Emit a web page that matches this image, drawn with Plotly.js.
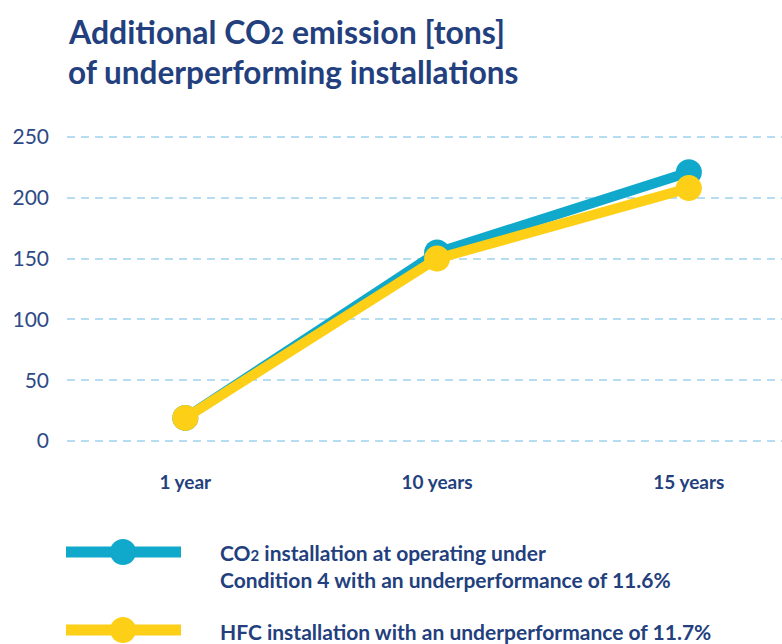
<!DOCTYPE html>
<html>
<head>
<meta charset="utf-8">
<script src="https://cdn.plot.ly/plotly-3.0.1.min.js"></script>
<style>html,body{margin:0;padding:0;background:#fff;}#chart{width:782px;height:644px;}</style>
</head>
<body>
<div id="chart"></div>
<script>
// ---- data ----
const categories = ['1 year', '10 years', '15 years'];
const co2Values = [19, 155, 221];
const hfcValues = [19, 150, 208];
const yTickValues = [0, 50, 100, 150, 200, 250];
const seriesNames = [
  'CO<span style="font-size:15px">2</span> installation at operating under<br>Condition 4 with an underperformance of 11.6%',
  'HFC installation with an underperformance of 11.7%'
];
const titleLines = ['Additional CO<span style="font-size:23px">2</span> emission [tons]', 'of underperforming installations'];

// ---- style ----
const W = 782, H = 644;
const M = {l: 67, r: 0, t: 120, b: 189};
const navy = '#233f7d';
const blue = '#10a9cb';
const yellow = '#fdd017';
const FONT = 'Lato, "Open Sans", sans-serif';

const pw = W - M.l - M.r, ph = H - M.t - M.b;
const px = x => (x - M.l) / pw;
const py = y => (H - M.b - y) / ph;

const traces = [
  {x: categories, y: co2Values, name: 'co2', type: 'scatter', mode: 'lines+markers',
   line: {color: blue, width: 10}, marker: {color: blue, size: 26}, cliponaxis: false},
  {x: categories, y: hfcValues, name: 'hfc', type: 'scatter', mode: 'lines+markers',
   line: {color: yellow, width: 10}, marker: {color: yellow, size: 26}, cliponaxis: false}
];

const legendRows = [{y: 552, color: blue, textY: 566, text: seriesNames[0]},
                     {y: 630, color: yellow, textY: 631, text: seriesNames[1]}];
const shapes = [];
const annotations = [];
legendRows.forEach(r => {
  shapes.push({type: 'line', xref: 'paper', yref: 'paper', x0: px(66), x1: px(181), y0: py(r.y), y1: py(r.y),
               line: {color: r.color, width: 11}});
  shapes.push({type: 'circle', xref: 'paper', yref: 'paper', x0: px(110), x1: px(136), y0: py(r.y + 13), y1: py(r.y - 13),
               fillcolor: r.color, line: {width: 0}});
  annotations.push({xref: 'paper', yref: 'paper', x: px(218), y: py(r.textY), xanchor: 'left', yanchor: 'middle',
                    align: 'left', showarrow: false, text: r.text,
                    font: {family: FONT, size: 21, weight: 700, color: navy}});
});
annotations.push({xref: 'paper', yref: 'paper', x: px(66), y: py(31), xanchor: 'left', yanchor: 'middle',
                  showarrow: false, text: titleLines[0], font: {family: FONT, size: 32, weight: 700, color: navy}});
annotations.push({xref: 'paper', yref: 'paper', x: px(66), y: py(72), xanchor: 'left', yanchor: 'middle',
                  showarrow: false, text: titleLines[1], font: {family: FONT, size: 31.5, weight: 700, color: navy}});

const layout = {
  width: W, height: H,
  margin: M,
  paper_bgcolor: '#fff', plot_bgcolor: '#fff',
  showlegend: false,
  xaxis: {type: 'category', range: [-0.47, 2.37], showgrid: false, zeroline: false, showline: false,
          ticks: '', ticklabelstandoff: 14,
          tickfont: {family: FONT, size: 19, weight: 700, color: navy}},
  yaxis: {range: [-11.5, 264], tickvals: yTickValues, showgrid: true, gridcolor: '#b7ddf2', gridwidth: 2,
          griddash: '8px,6px', zeroline: false, showline: false, ticks: '', ticklabelstandoff: 17,
          tickfont: {family: FONT, size: 21, color: '#2e4a86'}},
  shapes: shapes,
  annotations: annotations
};

Plotly.newPlot('chart', traces, layout, {staticPlot: true, displayModeBar: false});
</script>
</body>
</html>
